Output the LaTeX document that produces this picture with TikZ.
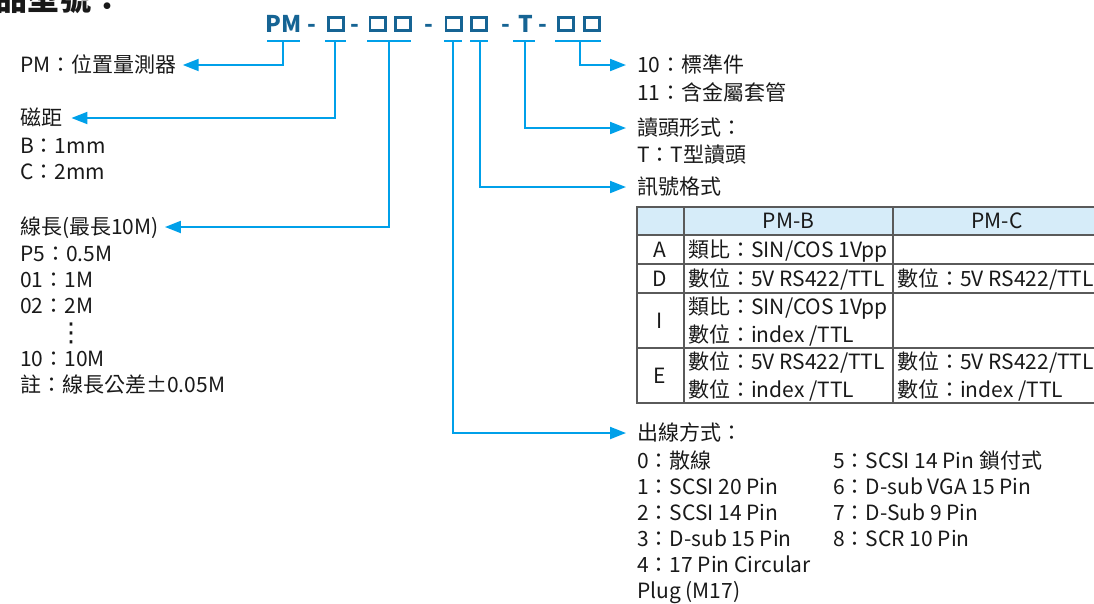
\documentclass[tikz,border=0pt]{standalone}
\usepackage{fontspec}
\setmainfont{Noto Sans CJK TC}
\newfontfamily\dejavu{DejaVu Sans}
\usetikzlibrary{arrows.meta}
\definecolor{lineblue}{RGB}{0,160,233}
\definecolor{codeblue}{RGB}{22,100,148}
\definecolor{headfill}{RGB}{214,236,249}
\definecolor{tabline}{RGB}{90,90,90}
\definecolor{txtcol}{RGB}{25,25,25}
\begin{document}
\begin{tikzpicture}[x=1pt,y=-1pt,
 lbl/.style={anchor=west, inner sep=0pt, text height=16pt, text depth=2pt, font=\fontsize{21}{26}\selectfont, text=txtcol},
 rowlab/.style={lbl, anchor=center},
 codetxt/.style={anchor=base, inner sep=0pt, font=\fontsize{23}{23}\selectfont\bfseries, text=codeblue},
 sq/.style={draw=codeblue, line width=2.6pt, minimum width=15.4pt, minimum height=13.4pt, inner sep=0pt},
 uline/.style={draw=lineblue, line width=2pt},
 conn/.style={draw=lineblue, line width=2pt, -{Triangle[length=16pt,width=12pt]}},
 tabgrid/.style={draw=tabline, line width=1.3pt},
]
\useasboundingbox (0,0) rectangle (1094,603);

% title (cut off at the top)
\node[anchor=base west, inner sep=0pt, font=\fontsize{32}{32}\selectfont\bfseries, text=txtcol] (title) at (-5,10) {品型號：};

% code line
\node[codetxt] (pm) at (283.5,32) {PM};
\node[codetxt] (d1) at (312,32) {-};
\node[sq] (b1) at (336,24) {};
\node[codetxt] (d2) at (355,32) {-};
\node[sq] (b2) at (377.5,24) {};
\node[sq] (b3) at (403,24) {};
\node[codetxt] (d3) at (428.5,32) {-};
\node[sq] (b4) at (453.5,24) {};
\node[sq] (b5) at (479,24) {};
\node[codetxt] (d4) at (506,32) {-};
\node[codetxt] (tt) at (526,32) {T};
\node[codetxt] (d5) at (543,32) {-};
\node[sq] (b6) at (566,24) {};
\node[sq] (b7) at (592,24) {};

% underlines
\draw[uline] (267,41) -- (300,41);
\draw[uline] (325,41) -- (346,41);
\draw[uline] (367,41) -- (411,41);
\draw[uline] (444,41) -- (462,41);
\draw[uline] (470,41) -- (488,41);
\draw[uline] (513,41) -- (535,41);
\draw[uline] (555,41) -- (601,41);
\coordinate (u1) at (283,41);
\coordinate (u2) at (335,41);
\coordinate (u3) at (389,41);
\coordinate (u4) at (453,41);
\coordinate (u5) at (480,41);
\coordinate (u6) at (525,41);
\coordinate (u7) at (580,41);

% left labels
\node[lbl] (l1) at (20,65) {PM：位置量測器};
\node[lbl] (l2) at (20,118) {磁距};
\node[lbl] (l2a) at (20,146) {B：1mm};
\node[lbl] (l2b) at (20,172) {C：2mm};
\node[lbl] (l3) at (20,227) {線長(最長10M)};
\node[lbl] (l3a) at (20,254) {P5：0.5M};
\node[lbl] (l3b) at (20,280) {01：1M};
\node[lbl] (l3c) at (20,306) {02：2M};
\node[inner sep=0pt, font=\dejavu\fontsize{26}{26}\selectfont, text=txtcol] (dots) at (71,333) {⋮};
\node[lbl] (l3d) at (20,359) {10：10M};
\node[lbl] (l3e) at (20,385) {註：線長公差±0.05M};

% right labels
\node[lbl] (r1) at (637,65) {10：標準件};
\node[lbl] (r1a) at (637,93) {11：含金屬套管};
\node[lbl] (r2) at (637,128) {讀頭形式：};
\node[lbl] (r2a) at (637,155) {T：T型讀頭};
\node[lbl] (r3) at (637,187) {訊號格式};

% table
\path[fill=headfill] (637,207) rectangle (1100,235);
\draw[tabgrid] (637,207) rectangle (1100,403);
\draw[tabgrid] (637,235) -- (1100,235);
\draw[tabgrid] (637,264) -- (1100,264);
\draw[tabgrid] (637,293) -- (1100,293);
\draw[tabgrid] (637,348) -- (1100,348);
\draw[tabgrid] (684,207) -- (684,403);
\draw[tabgrid] (893,207) -- (893,403);
\node[rowlab] (hb) at (788.5,221) {PM-B};
\node[rowlab] (hc) at (997,221) {PM-C};
\node[rowlab] (ra) at (660,250) {A};
\node[rowlab] (rd) at (660,279) {D};
\node[rowlab] (ri) at (660,321) {I};
\node[rowlab] (re) at (660,376) {E};
\node[lbl] (ca) at (688,250) {類比：SIN/COS 1Vpp};
\node[lbl] (cd) at (688,279) {數位：5V RS422/TTL};
\node[lbl] (cd2) at (897,279) {數位：5V RS422/TTL};
\node[lbl] (ci1) at (688,307) {類比：SIN/COS 1Vpp};
\node[lbl] (ci2) at (688,335) {數位：index /TTL};
\node[lbl] (ce1) at (688,362) {數位：5V RS422/TTL};
\node[lbl] (ce2) at (688,390) {數位：index /TTL};
\node[lbl] (ce3) at (897,362) {數位：5V RS422/TTL};
\node[lbl] (ce4) at (897,390) {數位：index /TTL};

% cable exit
\node[lbl] (r4) at (637,433) {出線方式：};
\node[lbl] (o0) at (637,461) {0：散線};
\node[lbl] (o1) at (637,487) {1：SCSI 20 Pin};
\node[lbl] (o2) at (637,513) {2：SCSI 14 Pin};
\node[lbl] (o3) at (637,539) {3：D-sub 15 Pin};
\node[lbl] (o4) at (637,565) {4：17 Pin Circular};
\node[lbl] (o4b) at (637,591) {Plug (M17)};
\node[lbl] (o5) at (833,461) {5：SCSI 14 Pin 鎖付式};
\node[lbl] (o6) at (833,487) {6：D-sub VGA 15 Pin};
\node[lbl] (o7) at (833,513) {7：D-Sub 9 Pin};
\node[lbl] (o8) at (833,539) {8：SCR 10 Pin};

% connectors
\draw[conn, shorten >=6pt] (u1) |- (l1.east);
\draw[conn, shorten >=9pt] (u2) |- (l2.east);
\draw[conn, shorten >=6pt] (u3) |- (l3.east);
\draw[conn, shorten >=11pt] (u4) |- (r4.west);
\draw[conn, shorten >=11pt] (u5) |- (r3.west);
\draw[conn, shorten >=11pt] (u6) |- (r2.west);
\draw[conn, shorten >=11pt] (u7) |- (r1.west);
\end{tikzpicture}
\end{document}
